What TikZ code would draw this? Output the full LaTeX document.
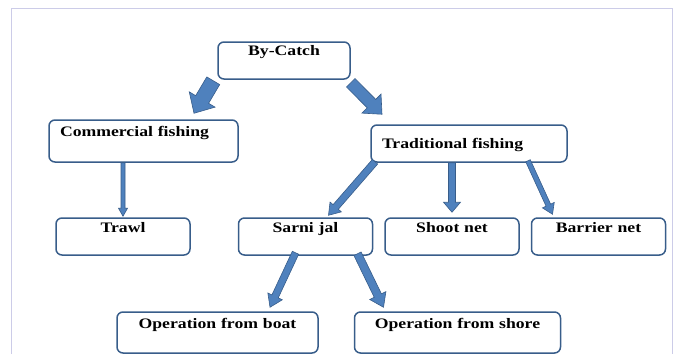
\documentclass[tikz,border=0pt]{standalone}
\usepackage{fontspec}
\newfontfamily\boxfont[FakeStretch=1.22]{Liberation Serif}
\usepackage{tikz}
\usetikzlibrary{positioning, calc}

\definecolor{boxblue}{RGB}{56,93,138}
\definecolor{arrowfill}{RGB}{79,129,189}
\definecolor{arrowline}{RGB}{56,93,138}
\definecolor{framelilac}{RGB}{204,204,232}

% block arrow: tail, tip, shaft half width, head half width, head length
\newcommand{\blockarrow}[5]{%
  \coordinate (arr-tail) at #1;
  \coordinate (arr-tip) at #2;
  \coordinate (arr-neck) at ($(arr-tip)!#5!(arr-tail)$);
  \draw[blockedge] ($(arr-tail)!#3!90:(arr-tip)$) -- ($(arr-neck)!#3!90:(arr-tip)$)
    -- ($(arr-neck)!#4!90:(arr-tip)$) -- (arr-tip) -- ($(arr-neck)!#4!-90:(arr-tip)$)
    -- ($(arr-neck)!#3!-90:(arr-tip)$) -- ($(arr-tail)!#3!-90:(arr-tip)$) -- cycle;
}

\begin{document}
\begin{tikzpicture}[
                x=1pt, y=-1pt,
                box/.style={draw=boxblue, line width=1.5pt, rounded corners=6pt, fill=white, inner xsep=0pt, inner ysep=0pt,
                            align=center, font=\boxfont\bfseries\fontsize{14.5}{17}\selectfont},
                leftbox/.style={box, inner xsep=11pt, align=left},
                blockedge/.style={draw=arrowline, line width=0.6pt, fill=arrowfill, line join=miter},
                frame/.style={draw=framelilac, line width=1pt}
            ]
            \useasboundingbox (0,0) rectangle (675,354);

            % Rahmen
            \draw[frame] (11,354) -- (11,8) -- (672,8) -- (672,354);

            % Knoten
            \node[box, text width=132pt, text height=13pt, text depth=24pt] (bycatch) at (284,60.5) {By-Catch};
            \node[leftbox, text width=167pt, text height=16pt, text depth=26pt] (comm) at (143.5,141) {Commercial fishing};
            \node[leftbox, text width=174pt, text height=23pt, text depth=14pt] (trad) at (469,143.5) {Traditional fishing};
            \node[box, text width=134pt, text height=14pt, text depth=23pt] (trawl) at (123,236.5) {Trawl};
            \node[box, text width=134pt, text height=14pt, text depth=23pt, right=47pt of trawl] (sarni) {Sarni jal};
            \node[box, text width=134pt, text height=14pt, text depth=23pt, right=11pt of sarni] (shoot) {Shoot net};
            \node[box, text width=134pt, text height=14pt, text depth=23pt, right=11pt of shoot] (barrier) {Barrier net};
            \node[box, text width=201pt, text height=16.5pt, text depth=24.5pt] (opboat) at (217.5,332.5) {Operation from boat};
            \node[box, text width=206pt, text height=16.5pt, text depth=24.5pt, right=35pt of opboat] (opshore) {Operation from shore};

            % Pfeile zwischen Knoten
            \blockarrow{([xshift=-4pt,yshift=-1pt]bycatch.south west)}{([xshift=50.5pt,yshift=6pt]comm.north)}{7.5pt}{15pt}{16pt}
            \blockarrow{([yshift=-3pt]bycatch.south east)}{([xshift=-87pt,yshift=10pt]trad.north)}{6pt}{13.5pt}{15pt}
            \blockarrow{(trawl.north |- comm.south)}{([yshift=1pt]trawl.north)}{2pt}{4.5pt}{8pt}
            \blockarrow{([xshift=-94pt,yshift=1pt]trad.south)}{([xshift=23pt,yshift=2pt]sarni.north)}{3.5pt}{7.5pt}{11pt}
            \blockarrow{(shoot.north |- trad.south)}{([yshift=5pt]shoot.north)}{3.5pt}{8.5pt}{10pt}
            \blockarrow{([xshift=59pt,yshift=2pt]trad.south)}{([xshift=-46pt,yshift=3pt]barrier.north)}{2.5pt}{6.5pt}{10pt}
            \blockarrow{([xshift=-10pt,yshift=3pt]sarni.south)}{([xshift=52.5pt,yshift=4pt]opboat.north)}{3.5pt}{8pt}{12pt}
            \blockarrow{([xshift=52pt,yshift=2pt]sarni.south)}{([xshift=-74pt,yshift=4pt]opshore.north)}{4pt}{9pt}{13pt}

        \end{tikzpicture}
\end{document}
